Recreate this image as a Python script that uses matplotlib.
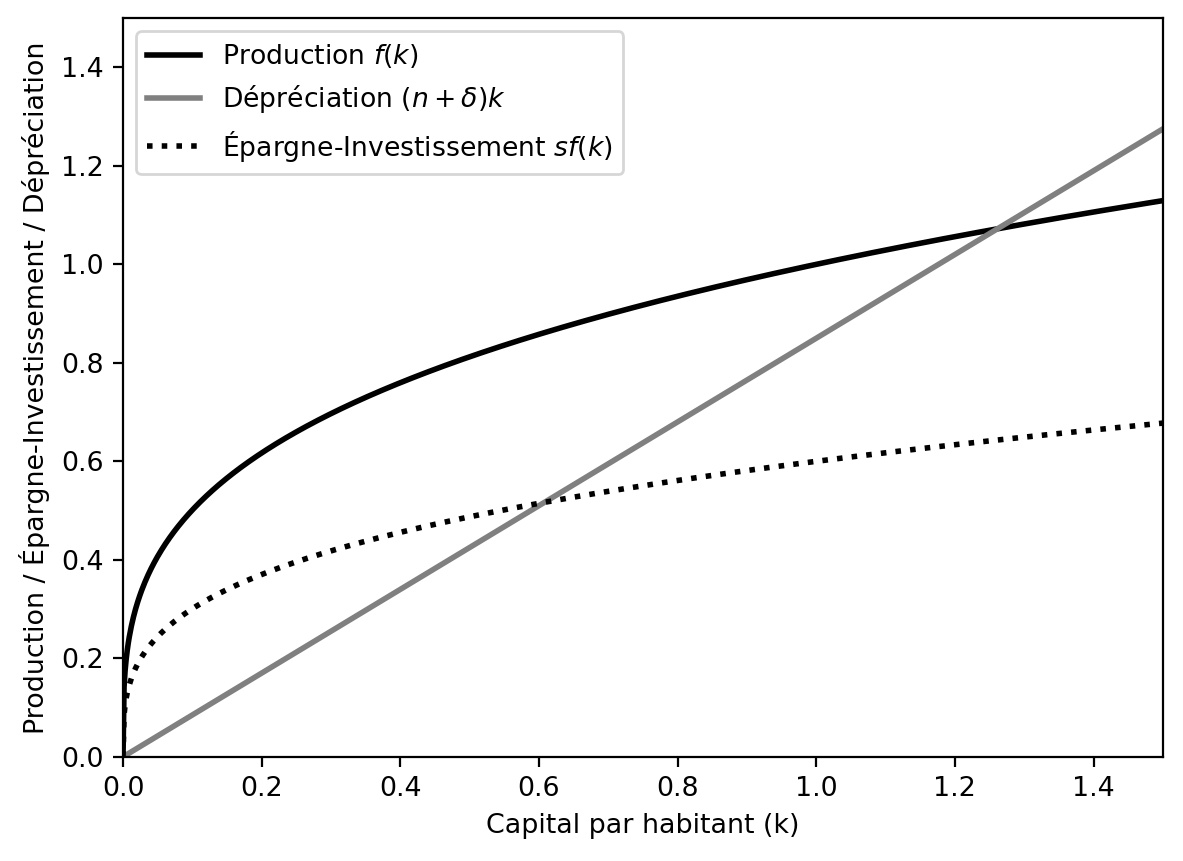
import numpy as np
import matplotlib
matplotlib.use("Agg")
import matplotlib.pyplot as plt

plt.rcParams['font.size'] = 9.7

# Model parameters
alpha = 0.3        # f(k) = k**alpha  (f(1)=1.0, f(1.5)≈1.13)
s = 0.6            # savings rate (sf(1.5)≈0.68)
n_delta = 0.85     # (n+δ) slope (≈1.275 at k=1.5)
k_min, k_max = 0.0, 1.5
y_max = 1.5

k = np.linspace(k_min, k_max, 1000)
f_k = k ** alpha
dep = n_delta * k
sf_k = s * f_k

fig = plt.figure(figsize=(5.915, 4.305), dpi=200)
ax = fig.add_axes([0.104, 0.121, 0.879, 0.858])
ax.plot(k, f_k, color="black", lw=2, label="Production $f(k)$")
ax.plot(k, dep, color="gray", lw=2, label="Dépréciation $(n + \\delta)k$")
ax.plot(k, sf_k, color="black", lw=2, ls=":", label="Épargne-Investissement $sf(k)$")
ax.set_xlim(k_min, k_max)
ax.set_ylim(0, y_max)
ax.set_xlabel("Capital par habitant (k)")
ax.set_ylabel("Production / Épargne-Investissement / Dépréciation")
ax.legend(loc="upper left", fontsize=9.6)
fig.savefig("out.png", dpi=200)
